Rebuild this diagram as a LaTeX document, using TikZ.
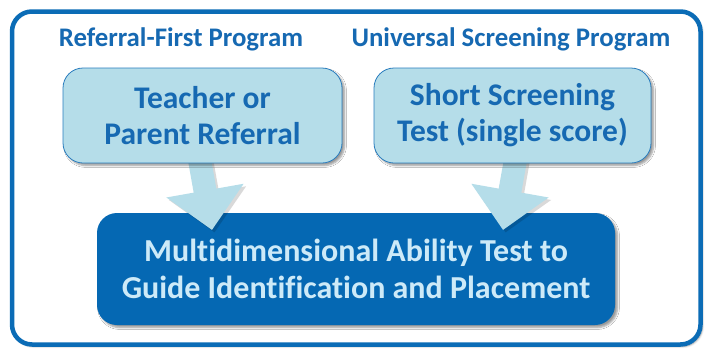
\documentclass[tikz,border=0pt]{standalone}
\usepackage{fontspec}
\setmainfont{Carlito}[Ligatures=NoCommon]
\usetikzlibrary{arrows.meta,shadows.blur,calc}
\definecolor{frameblue}{HTML}{0B6CB6}
\definecolor{headblue}{HTML}{1669B2}
\definecolor{lightfill}{HTML}{B5DDE9}
\definecolor{lightborder}{HTML}{2A7DBE}
\definecolor{darkfill}{HTML}{0568B3}
\definecolor{darktext}{HTML}{CDEAF8}
\begin{document}
\begin{tikzpicture}[x=1pt,y=-1pt,
  framebox/.style={draw=frameblue, line width=4.5pt, rounded corners=20pt, fill=white,
    minimum width=688.5pt, minimum height=333pt,
    blur shadow={shadow xshift=2pt, shadow yshift=-2pt, shadow blur steps=4, shadow opacity=40}},
  heading/.style={font=\bfseries\fontsize{26.8}{30}\selectfont, text=headblue, anchor=base, inner sep=0pt},
  lightbox/.style={draw=lightborder, line width=0.8pt, fill=lightfill, rounded corners=20pt,
    minimum height=95pt, align=center, text=headblue,
    font=\bfseries\fontsize{31.5}{36}\selectfont,
    blur shadow={shadow xshift=2.5pt, shadow yshift=-2.5pt, shadow blur steps=5, shadow opacity=40}},
  darkbox/.style={fill=darkfill, rounded corners=20pt, minimum width=518pt, minimum height=112pt,
    align=center, text=darktext, font=\bfseries\fontsize{32}{37}\selectfont,
    blur shadow={shadow xshift=2.5pt, shadow yshift=-2.5pt, shadow blur steps=5, shadow opacity=40}},
  blockarrow/.style={line width=23pt, draw=lightfill, -{Triangle[width=76pt,length=40pt]}},
  arrowshadow/.style={line width=23pt, draw=black, opacity=0.15, -{Triangle[width=76pt,length=40pt]},
    transform canvas={shift={(2.5pt,-2.5pt)}}}
]
\useasboundingbox (0,0) rectangle (708,351);
\node[framebox] (frame) at (356.25,178) {};
\node[heading] (h1) at (181,46) {Referral-First Program};
\node[heading] (h2) at (511,46) {Universal Screening Program};
\node[darkbox] (multi) at (356,269) {Multidimensional Ability Test to\\Guide Identification and Placement};
\coordinate (a1s) at (196,140);
\coordinate (a1t) at (212,230);
\coordinate (a2s) at (519,140);
\coordinate (a2t) at (503,230);
\draw[arrowshadow] (a1s) -- (a1t);
\draw[arrowshadow] (a2s) -- (a2t);
\draw[blockarrow] (a1s) -- (a1t);
\draw[blockarrow] (a2s) -- (a2t);
\node[lightbox, minimum width=279pt] (teacher) at (202.5,115.5) {Teacher or\\Parent Referral};
\node[lightbox, minimum width=277pt] (screen) at (512.5,115.5) {Short Screening\\Test (single score)};
\end{tikzpicture}
\end{document}
